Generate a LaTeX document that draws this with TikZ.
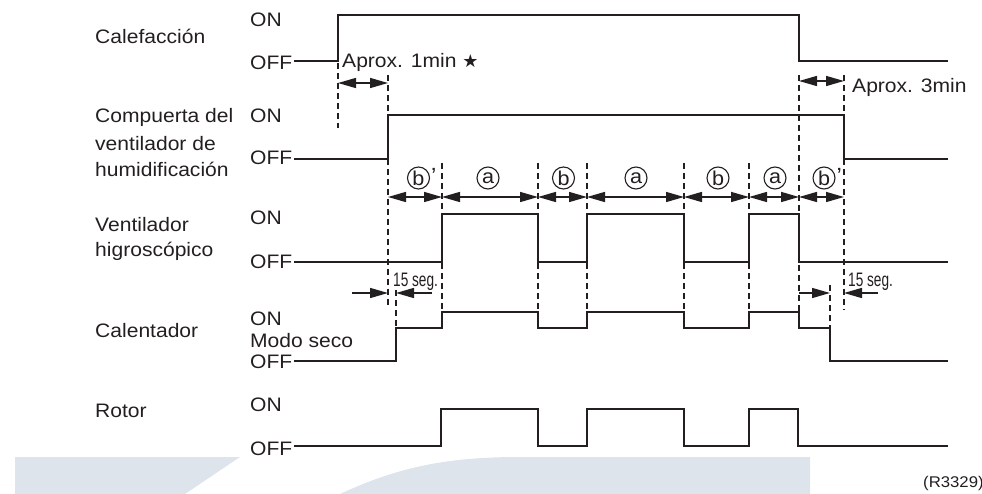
\documentclass[tikz,border=0pt]{standalone}
\usepackage{fontspec}
\setmainfont{Liberation Sans}[FakeStretch=1.08]
\newfontfamily\narrowf{Liberation Sans}[FakeStretch=0.70]
\newfontfamily\symf{DejaVu Sans}
\usetikzlibrary{arrows.meta}
\definecolor{band}{RGB}{221,228,236}
\definecolor{ink}{RGB}{35,31,32}
\begin{document}
\begin{tikzpicture}[x=1pt,y=-1pt,
  lbl/.style={inner sep=0pt, anchor=base west, text=ink, font=\fontsize{19.5}{24}\selectfont},
  seg/.style={inner sep=0pt, anchor=base west, text=ink, font=\narrowf\fontsize{19.5}{24}\selectfont},
  circ/.style={circle, draw=ink, line width=1.1pt, inner sep=0pt, minimum size=22pt, text=ink, font=\fontsize{20}{22}\selectfont},
  wave/.style={draw=ink, line width=1.5pt, line join=miter},
  guide/.style={draw=ink, line width=1.2pt, dash pattern=on 6pt off 4pt},
  dim/.style={draw=ink, line width=1.5pt, {Triangle[length=18pt,width=10pt]}-{Triangle[length=18pt,width=10pt]}},
  onehead/.style={draw=ink, line width=1.5pt, -{Triangle[length=18pt,width=10pt]}}]
\useasboundingbox (0,0) rectangle (982,494);
% background band
\fill[band] (15,457) -- (240,457) -- (185,494) -- (15,494) -- cycle;
\fill[band] (340,494) .. controls (400,466) and (450,457) .. (520,457) -- (810,457) -- (810,494) -- cycle;

% signal names
\node[lbl] (n1) at (95,44) {Calefacción};
\node[lbl] (n2a) at (95,123) {Compuerta del};
\node[lbl] (n2b) at (95,151) {ventilador de};
\node[lbl] (n2c) at (95,177) {humidificación};
\node[lbl] (n3a) at (95,232) {Ventilador};
\node[lbl] (n3b) at (95,257) {higroscópico};
\node[lbl] (n4) at (95,337) {Calentador};
\node[lbl] (n5) at (95,417) {Rotor};

% state labels
\node[lbl] (on1) at (250,27) {ON};
\node[lbl] (off1) at (250,70) {OFF};
\node[lbl] (on2) at (250,123) {ON};
\node[lbl] (off2) at (250,165) {OFF};
\node[lbl] (on3) at (250,225) {ON};
\node[lbl] (off3) at (250,269) {OFF};
\node[lbl] (on4) at (250,325) {ON};
\node[lbl] (ms4) at (250,347) {Modo seco};
\node[lbl] (off4) at (250,368) {OFF};
\node[lbl] (on5) at (250,411) {ON};
\node[lbl] (off5) at (250,455) {OFF};

% waveforms
\draw[wave] (294,61) -- (338,61) -- (338,15) -- (799,15) -- (799,61) -- (948,61);
\draw[wave] (294,159) -- (388,159) -- (388,115) -- (844,115) -- (844,159) -- (948,159);
\draw[wave] (294,262) -- (442,262) -- (442,214) -- (538,214) -- (538,262) -- (587,262) -- (587,214)
  -- (684,214) -- (684,262) -- (749,262) -- (749,214) -- (799,214) -- (799,262) -- (948,262);
\draw[wave] (294,361) -- (396,361) -- (396,328) -- (442,328) -- (442,312) -- (538,312) -- (538,328)
  -- (587,328) -- (587,312) -- (684,312) -- (684,328) -- (749,328) -- (749,312) -- (799,312)
  -- (799,328) -- (830,328) -- (830,361) -- (948,361);
\draw[wave, line width=1.3pt] (294,446) -- (441,446) -- (441,409) -- (538,409) -- (538,446) -- (587,446) -- (587,409)
  -- (684,409) -- (684,446) -- (749,446) -- (749,409) -- (798,409) -- (798,446) -- (948,446);

% guide lines
\draw[guide] (338,63) -- (338,128);
\draw[guide] (388,75) -- (388,115);
\draw[guide] (388,159) -- (388,308);
\draw[guide] (396,290) -- (396,328);
\foreach \gx in {442,538,587,684,749} {\draw[guide] (\gx,163) -- (\gx,312);}
\draw[guide] (799,75) -- (799,312);
\draw[guide] (844,75) -- (844,115);
\draw[guide] (844,159) -- (844,310);
\draw[guide] (830,285) -- (830,328);

% time markers
\foreach \nm/\gx in {t0/388,t1/442,t2/538,t3/587,t4/684,t5/749,t6/799,t7/844}
  {\coordinate (\nm) at (\gx,197);}
\draw[dim] (t0) -- (t1);
\draw[dim] (t1) -- (t2);
\draw[dim] (t2) -- (t3);
\draw[dim] (t3) -- (t4);
\draw[dim] (t4) -- (t5);
\draw[dim] (t5) -- (t6);
\draw[dim] (t6) -- (t7);

% interval labels
\node[circ] (c1) at (418.5,178) {b};
\node[lbl, font=\fontsize{22}{24}\selectfont] (p1) at (431,184) {'};
\node[circ] (c2) at (488,178) {a};
\node[circ] (c3) at (563.5,178) {b};
\node[circ] (c4) at (636,178) {a};
\node[circ] (c5) at (718,178) {b};
\node[circ] (c6) at (775,178) {a};
\node[circ] (c7) at (824,178) {b};
\node[lbl, font=\fontsize{22}{24}\selectfont] (p7) at (836.5,184) {'};

% Aprox. arrows
\coordinate (a1l) at (338,83);
\coordinate (a1r) at (388,83);
\draw[dim] (a1l) -- (a1r);
\node[lbl] (ap1) at (342,68) {Aprox. 1min {\symf\fontsize{18}{20}\selectfont ★}};
\coordinate (a3l) at (799,81);
\coordinate (a3r) at (844,81);
\draw[dim] (a3l) -- (a3r);
\node[lbl] (ap3) at (852,93) {Aprox. 3min};

% 15 seg.
\coordinate (s1a) at (352,293);
\coordinate (s1b) at (388,293);
\coordinate (s1c) at (432,293);
\coordinate (s1d) at (396,293);
\draw[onehead] (s1a) -- (s1b);
\draw[onehead] (s1c) -- (s1d);
\node[seg] (sg1) at (393,287) {15 seg.};
\coordinate (s2a) at (799,293);
\coordinate (s2b) at (830,293);
\coordinate (s2c) at (878,293);
\coordinate (s2d) at (844,293);
\draw[onehead] (s2a) -- (s2b);
\draw[onehead] (s2c) -- (s2d);
\node[seg] (sg2) at (848,287) {15 seg.};

\node[lbl, font=\fontsize{15.5}{18}\selectfont] (ref) at (923,487) {(R3329)};
\end{tikzpicture}
\end{document}
